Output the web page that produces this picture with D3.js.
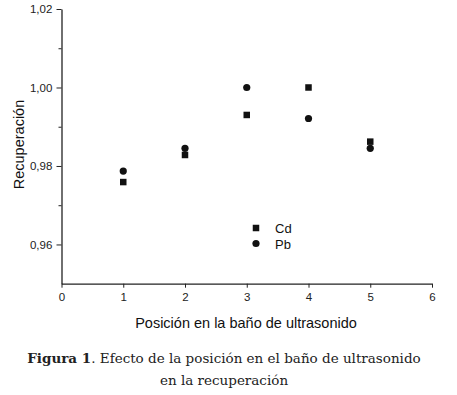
<!DOCTYPE html>
<html><head><meta charset="utf-8">
<script src="https://cdn.jsdelivr.net/npm/d3@7"></script>
<style>body{margin:0;background:#fff}svg{display:block}</style>
</head><body>
<svg id="c" width="457" height="395"></svg>
<script>
const positions = [1, 2, 3, 4, 5];
const cdValues = [0.9759, 0.9828, 0.9930, 1.0000, 0.9862];
const pbValues = [0.9787, 0.9845, 1.0000, 0.9921, 0.9845];
const xTicks = [0, 1, 2, 3, 4, 5, 6];
const yTicks = [0.96, 0.98, 1.00, 1.02];
const yMinorTicks = [0.97, 0.99, 1.01];
const seriesNames = ["Cd", "Pb"];
const xLabel = "Posición en la baño de ultrasonido";
const yLabel = "Recuperación";
const captionBold = "Figura 1";
const captionRest1 = ". Efecto de la posición en el baño de ultrasonido";
const captionLine2 = "en la recuperación";

const svg = d3.select("#c");
const x = d3.scaleLinear().domain([0, 6]).range([61.5, 432]);
const y = d3.scaleLinear().domain([0.95, 1.02]).range([283.7, 9]);
const fmt = d => d3.format(".2f")(d).replace(".", ",");

const g = svg.append("g").attr("font-family", "Liberation Sans, Arial, sans-serif");

// X axis
const xa = g.append("g").attr("transform", `translate(0,${y(0.95)})`)
  .call(d3.axisBottom(x).tickValues(xTicks).tickFormat(d3.format("d")).tickSize(4).tickSizeOuter(0));
xa.select(".domain").attr("stroke", "#222").attr("stroke-width", 1.3);
xa.selectAll(".tick line").attr("stroke", "#222");
xa.selectAll(".tick text").attr("font-size", 11.5).attr("fill", "#222").attr("dy", "0.9em");

// Y axis
const ya = g.append("g").attr("transform", `translate(${x(0)},0)`)
  .call(d3.axisLeft(y).tickValues(yTicks).tickFormat(fmt).tickSize(5).tickSizeOuter(0));
ya.select(".domain").attr("stroke", "#222").attr("stroke-width", 1.3);
ya.selectAll(".tick line").attr("stroke", "#222");
ya.selectAll(".tick text").attr("font-size", 11.5).attr("fill", "#222").attr("dx", "-0.1em");
const ym = g.append("g").attr("transform", `translate(${x(0)},0)`)
  .call(d3.axisLeft(y).tickValues(yMinorTicks).tickFormat("").tickSize(3).tickSizeOuter(0));
ym.select(".domain").remove();
ym.selectAll(".tick line").attr("stroke", "#222");

// Axis labels
g.append("text").attr("x", 246).attr("y", 328).attr("text-anchor", "middle")
  .attr("font-size", 14.5).attr("fill", "#111").text(xLabel);
g.append("text").attr("transform", `translate(24,144.5) rotate(-90)`).attr("text-anchor", "middle")
  .attr("font-size", 14.5).attr("fill", "#111").text(yLabel);

// Data
const sq = 6.5;
g.append("g").selectAll("rect").data(positions).join("rect")
  .attr("x", (d, i) => x(d) - sq / 2).attr("y", (d, i) => y(cdValues[i]) - sq / 2)
  .attr("width", sq).attr("height", sq).attr("fill", "#111");
g.append("g").selectAll("circle").data(positions).join("circle")
  .attr("cx", d => x(d)).attr("cy", (d, i) => y(pbValues[i])).attr("r", 3.6).attr("fill", "#111");

// Legend
const lx = 256, ly = 228;
g.append("rect").attr("x", lx - sq / 2).attr("y", ly - sq / 2).attr("width", sq).attr("height", sq).attr("fill", "#111");
g.append("circle").attr("cx", lx).attr("cy", ly + 15.5).attr("r", 3.6).attr("fill", "#111");
g.append("text").attr("x", 275).attr("y", ly + 5).attr("font-size", 13).attr("fill", "#111").text(seriesNames[0]);
g.append("text").attr("x", 275).attr("y", ly + 20.5).attr("font-size", 13).attr("fill", "#111").text(seriesNames[1]);

// Caption
const cap = svg.append("g").attr("font-family", "DejaVu Serif, serif").attr("fill", "#222");
const t1 = cap.append("text").attr("x", 224).attr("y", 363).attr("text-anchor", "middle").attr("font-size", 13.5);
t1.append("tspan").attr("font-weight", "bold").text(captionBold);
t1.append("tspan").text(captionRest1);
cap.append("text").attr("x", 224).attr("y", 385).attr("text-anchor", "middle").attr("font-size", 13.5).text(captionLine2);
</script>
</body></html>
